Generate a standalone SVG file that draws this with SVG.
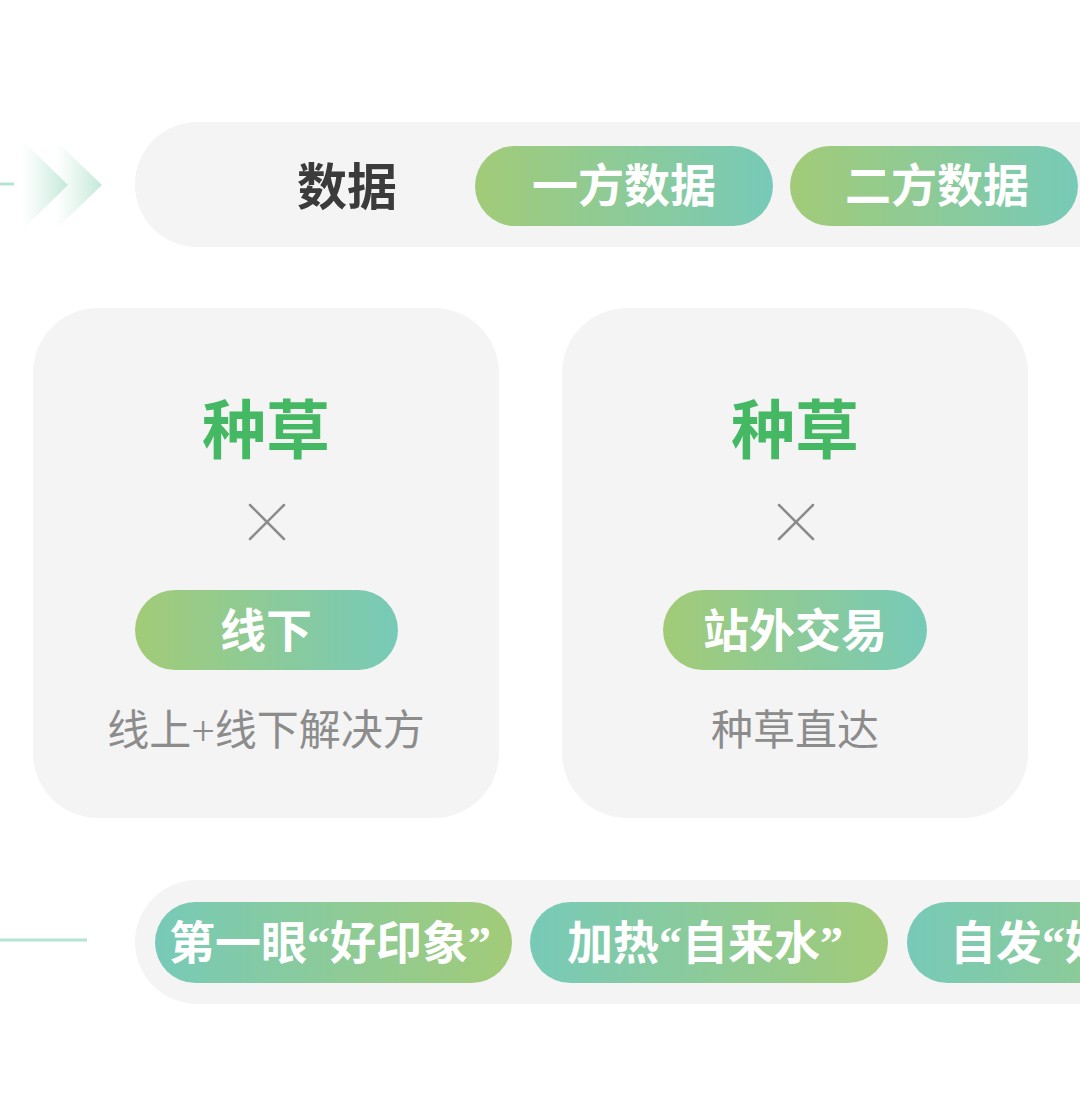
<svg xmlns="http://www.w3.org/2000/svg" width="1080" height="1113" viewBox="0 0 1080 1113">
  <defs>
    <linearGradient id="gPill" x1="0" y1="0" x2="1" y2="0">
      <stop offset="0" stop-color="#a2cb78"/>
      <stop offset="1" stop-color="#77cab8"/>
    </linearGradient>
    <linearGradient id="gPillRev" x1="0" y1="0" x2="1" y2="0">
      <stop offset="0" stop-color="#77cab8"/>
      <stop offset="1" stop-color="#a2cb78"/>
    </linearGradient>
    <linearGradient id="gChev" x1="0" y1="0" x2="1" y2="0">
      <stop offset="0" stop-color="#d2eee2" stop-opacity="0"/>
      <stop offset="1" stop-color="#c2e8d8" stop-opacity="1"/>
    </linearGradient>
    <style>
      .bar { fill: #f4f4f4; }
      .card { fill: #f4f4f4; }
      .txt { font-family: "Liberation Serif", "Noto Sans CJK SC", serif; text-anchor: middle; }
      .head { font-size: 50px; font-weight: 700; fill: #3b3b3b; }
      .pilltxt { font-size: 46px; font-weight: 700; fill: #ffffff; }
      .title { font-size: 64px; font-weight: 700; fill: #45b863; }
      .sub { font-size: 42px; font-weight: 400; fill: #8c8c8c; }
      .cross { stroke: #8c8c8c; stroke-width: 2.5; stroke-linecap: round; }
      .conn { stroke: #b6e3d3; stroke-width: 3; fill: none; }
    </style>
  </defs>
  <rect width="1080" height="1113" fill="#ffffff"/>

  <g id="connectors">
    <line class="conn" x1="0" y1="184" x2="14" y2="184"/>
    <line class="conn" x1="0" y1="940" x2="87" y2="940"/>
  </g>

  <g id="chevrons">
    <polygon points="22,140 68,185 22,230" fill="url(#gChev)"/>
    <polygon points="55,140 102,185 55,230" fill="url(#gChev)"/>
  </g>

  <g id="data-bar">
    <rect class="bar" x="135" y="122" width="1010" height="125" rx="62"/>
    <text class="txt head" x="347" y="205">数据</text>
  </g>

  <g id="pill-first-party">
    <rect x="475" y="146" width="298" height="80" rx="40" fill="url(#gPill)"/>
    <text class="txt pilltxt" x="624" y="202">一方数据</text>
  </g>

  <g id="pill-second-party">
    <rect x="790" y="146" width="288" height="80" rx="40" fill="url(#gPill)"/>
    <text class="txt pilltxt" x="937" y="202">二方数据</text>
  </g>

  <g id="card-offline">
    <rect class="card" x="33" y="308" width="466" height="510" rx="65"/>
    <text class="txt title" x="266" y="453">种草</text>
    <line class="cross" x1="250" y1="505" x2="284" y2="539"/>
    <line class="cross" x1="284" y1="505" x2="250" y2="539"/>
    <rect x="135" y="590" width="263" height="80" rx="40" fill="url(#gPill)"/>
    <text class="txt pilltxt" x="266" y="647">线下</text>
    <text class="txt sub" x="266" y="745">线上+线下解决方</text>
  </g>

  <g id="card-offsite">
    <rect class="card" x="562" y="308" width="466" height="510" rx="65"/>
    <text class="txt title" x="795" y="453">种草</text>
    <line class="cross" x1="779" y1="505" x2="813" y2="539"/>
    <line class="cross" x1="813" y1="505" x2="779" y2="539"/>
    <rect x="663" y="590" width="264" height="80" rx="40" fill="url(#gPill)"/>
    <text class="txt pilltxt" x="795" y="647">站外交易</text>
    <text class="txt sub" x="795" y="745">种草直达</text>
  </g>

  <g id="bottom-bar">
    <rect class="bar" x="135" y="880" width="1010" height="124" rx="62"/>
  </g>

  <g id="pill-impression">
    <rect x="155" y="902" width="357" height="81" rx="40.5" fill="url(#gPillRev)"/>
    <text class="txt pilltxt" x="330" y="959">第一眼“好印象”</text>
  </g>

  <g id="pill-heating">
    <rect x="530" y="902" width="358" height="81" rx="40.5" fill="url(#gPillRev)"/>
    <text class="txt pilltxt" x="705" y="959">加热“自来水”</text>
  </g>

  <g id="pill-spontaneous">
    <rect x="907" y="902" width="358" height="81" rx="40.5" fill="url(#gPillRev)"/>
    <text class="txt pilltxt" x="950" y="959" style="text-anchor:start">自发“好</text>
  </g>
</svg>
